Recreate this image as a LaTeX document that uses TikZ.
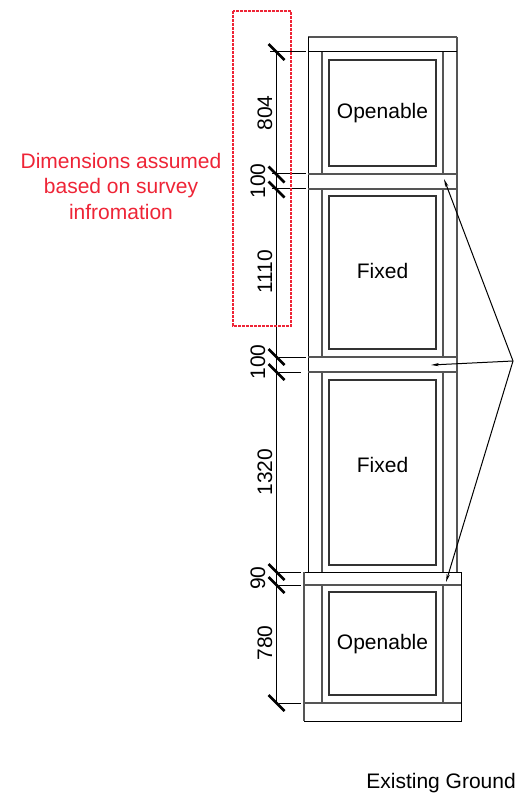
\documentclass[tikz,border=0pt]{standalone}
\usepackage{fontspec}
\setmainfont{Liberation Sans}
\usetikzlibrary{arrows.meta}
\definecolor{glaze}{HTML}{555555}
\definecolor{redmark}{HTML}{EE2436}
\tikzset{
  px/.style={x=1pt,y=-1pt},
  blackline/.style={draw=black,line width=1pt},
  greyline/.style={draw=glaze,line width=1.1pt},
  pane/.style={draw=black!80,line width=1.05pt},
  tick/.style={draw=black,line width=2.7pt},
  dimlab/.style={font=\fontsize{21}{21}\selectfont,rotate=90,inner sep=0},
  paneltext/.style={font=\fontsize{21}{21}\selectfont,inner sep=0},
  leader/.style={draw=black,line width=1pt,-{Stealth[length=8pt,width=3.2pt]}},
  note/.style={font=\fontsize{21}{25.5}\selectfont,text=redmark,align=center,inner sep=0},
  groundtext/.style={font=\fontsize{21}{21}\selectfont,inner sep=0}
}
\begin{document}
\begin{tikzpicture}[px]
\useasboundingbox (0,0) rectangle (516,799);
% frame outlines
\draw[greyline] (308,37) -- (457,37);
\draw[blackline] (308,37) -- (308,572);
\draw[greyline] (457,37) -- (457,572);
\draw[blackline] (308,52) -- (457,52);
\draw[greyline] (308,174) -- (457,174);
\draw[greyline] (308,189) -- (457,189);
\draw[greyline] (308,357) -- (457,357);
\draw[greyline] (308,372) -- (457,372);
\foreach \a/\b in {52/174,189/357,372/572,585/703}{
  \draw[greyline] (322,\a) -- (322,\b);
  \draw[greyline] (443,\a) -- (443,\b);
}
% bottom frame
\draw[blackline] (304,572) -- (461,572) -- (461,721) -- (304,721);
\draw[greyline] (304,572) -- (304,721);
\draw[greyline] (304,585) -- (461,585);
\draw[greyline] (304,703) -- (461,703);
% panes
\draw[pane] (329,60) rectangle (436,166);
\draw[pane] (329,196) rectangle (436,349);
\draw[pane] (329,380) rectangle (436,565);
\draw[pane] (329,592) rectangle (436,695);
\node[paneltext] (p1) at (382.5,113) {Openable};
\node[paneltext] (p2) at (382.5,271) {Fixed};
\node[paneltext] (p3) at (382.5,465) {Fixed};
\node[paneltext] (p4) at (382.5,644) {Openable};
% dimension chain
\draw[blackline] (276.5,52) -- (276.5,703);
\draw[blackline] (270,52) -- (306,52);
\draw[blackline] (272,174) -- (306,174);
\draw[blackline] (272,189) -- (306,189);
\draw[blackline] (279,357) -- (306,357);
\draw[blackline] (279,372) -- (301,372);
\draw[blackline] (279,572) -- (301,572);
\draw[blackline] (279,585) -- (301,585);
\draw[blackline] (279,703) -- (301,703);
\foreach \y in {52,174.5,189.5,357,372,572,585,703}{
  \draw[tick] (268.5,\y-8) -- (284.5,\y+8);
}
\node[dimlab] (d1) at (265,113) {804};
\node[dimlab] (d2) at (258,181) {100};
\node[dimlab] (d3) at (265,272) {1110};
\node[dimlab] (d4) at (258,362) {100};
\node[dimlab] (d5) at (265,472) {1320};
\node[dimlab] (d6) at (258,578) {90};
\node[dimlab] (d7) at (265,643) {780};
% leaders
\coordinate (hub) at (513,361);
\coordinate (t1) at (444,179);
\coordinate (t2) at (431,365);
\coordinate (t3) at (446,582);
\draw[leader] (hub) -- (t1);
\draw[leader] (hub) -- (t2);
\draw[leader] (hub) -- (t3);
% red note
\draw[draw=redmark,line width=1.4pt,dash pattern=on 3pt off 1pt] (233,11) rectangle (291,326);
\node[note] (n) at (121,186) {Dimensions assumed\\based on survey\\infromation};
\node[groundtext,anchor=east] (g) at (516,783) {Existing Ground};
\end{tikzpicture}
\end{document}
